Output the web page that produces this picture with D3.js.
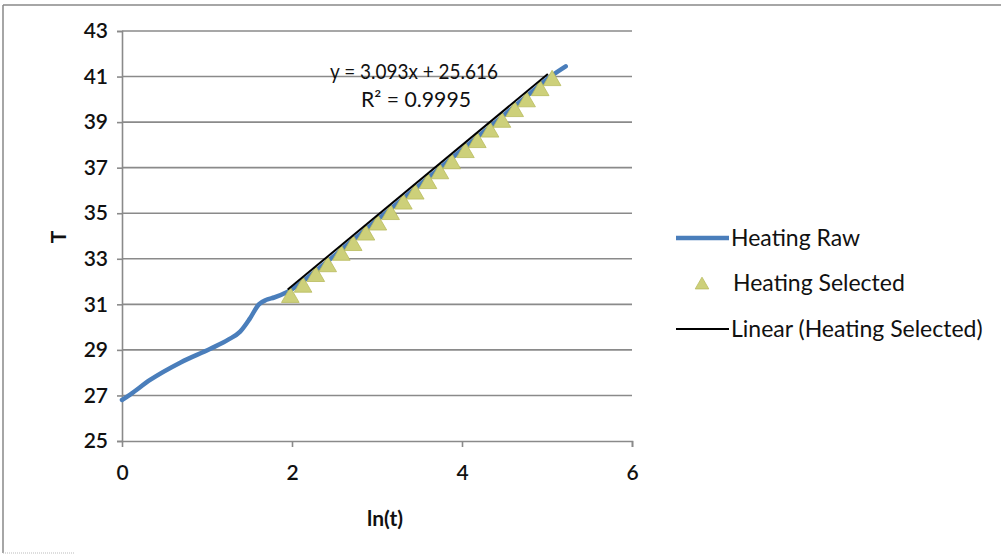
<!DOCTYPE html>
<html><head><meta charset="utf-8">
<script src="https://cdn.jsdelivr.net/npm/d3@7"></script>
<style>body{margin:0;background:#fff}svg{display:block}text{font-family:Lato,"Open Sans",sans-serif}</style>
</head><body><svg id="c" width="1001" height="556"></svg>
<script>
// Heating Raw: ln(t) vs T
const rawX = [0, 0.1, 0.33, 0.69, 1.04, 1.25, 1.39, 1.5, 1.61, 1.7, 1.79, 1.95, 2.3, 2.71, 3.0, 3.4, 3.9, 4.4, 4.8, 5.06, 5.22];
const rawT = [26.8, 27.05, 27.68, 28.45, 29.05, 29.45, 29.8, 30.35, 31.0, 31.2, 31.3, 31.55, 32.53, 33.8, 34.7, 35.93, 37.48, 39.02, 40.26, 41.05, 41.45];
// Heating Selected
const selX = [1.98, 2.13, 2.28, 2.42, 2.58, 2.72, 2.87, 3.01, 3.16, 3.31, 3.45, 3.60, 3.74, 3.88, 4.04, 4.18, 4.33, 4.47, 4.62, 4.76, 4.92, 5.06];
const selT = [31.35, 31.8, 32.27, 32.7, 33.2, 33.63, 34.09, 34.53, 34.99, 35.45, 35.89, 36.35, 36.78, 37.22, 37.71, 38.15, 38.61, 39.04, 39.51, 39.94, 40.43, 40.87];
// Linear fit
const slope = 3.093, intercept = 25.616, r2 = "0.9995";
const xTicks = [0, 2, 4, 6];
const yTicks = [25, 27, 29, 31, 33, 35, 37, 39, 41, 43];
const legendLabels = ["Heating Raw", "Heating Selected", "Linear (Heating Selected)"];

const svg = d3.select("#c");
const x = d3.scaleLinear().domain([0, 6]).range([122, 632]);
const y = d3.scaleLinear().domain([25, 43]).range([441, 31]);

// frame
svg.append("line").attr("x1",3).attr("x2",1001).attr("y1",5).attr("y2",5).attr("stroke","#888").attr("stroke-width",1.5);
svg.append("line").attr("x1",3).attr("x2",3).attr("y1",5).attr("y2",553).attr("stroke","#888").attr("stroke-width",1.5);
svg.append("line").attr("x1",3).attr("x2",75).attr("y1",553).attr("y2",553).attr("stroke","#bbb").attr("stroke-width",1).attr("stroke-dasharray","1,1");

// grid
svg.append("g").selectAll("line").data(yTicks.slice(1)).join("line")
  .attr("x1", x(0)).attr("x2", x(6)).attr("y1", d=>y(d)).attr("y2", d=>y(d))
  .attr("stroke","#8a8a8a").attr("stroke-width",1.6);

// axes
const gy = svg.append("g").attr("transform",`translate(${x(0)},0)`)
  .call(d3.axisLeft(y).tickValues(yTicks).tickSize(5).tickPadding(9).tickFormat(d3.format("d")));
const gx = svg.append("g").attr("transform",`translate(0,${y(25)})`)
  .call(d3.axisBottom(x).tickValues(xTicks).tickSize(6).tickPadding(18).tickFormat(d3.format("d")));
[gx, gy].forEach(g => {
  g.select(".domain").attr("stroke","#8a8a8a").attr("stroke-width",1.6);
  g.selectAll(".tick line").attr("stroke","#8a8a8a").attr("stroke-width",1.6);
  g.selectAll(".tick text").attr("font-size",21).attr("font-weight",600).attr("fill","#111").style("font-family","Lato,sans-serif");
});
gx.select(".tick line").remove();

// axis titles
svg.append("text").attr("x",385).attr("y",526).attr("text-anchor","middle").attr("font-size",21).attr("font-weight",700).attr("fill","#111").text("ln(t)");
svg.append("text").attr("transform","translate(66,237) rotate(-90)").attr("text-anchor","middle").attr("font-size",21).attr("font-weight",700).attr("fill","#111").text("T");

// raw line
const line = d3.line().x((d,i)=>x(rawX[i])).y((d,i)=>y(rawT[i])).curve(d3.curveMonotoneX);
svg.append("path").attr("d", line(rawT)).attr("fill","none").attr("stroke","#4a7ebb").attr("stroke-width",4.5).attr("stroke-linecap","round");

// selected triangles
const tri = d3.symbol().type(d3.symbolTriangle).size(135);
svg.append("g").selectAll("path").data(selX).join("path")
  .attr("d", tri).attr("transform",(d,i)=>`translate(${x(d)},${y(selT[i])+1})`)
  .attr("fill","#cdd07a").attr("stroke","#b9bb5e").attr("stroke-width",0.8);

// trend line
const x0 = 1.95, x1 = 5.01;
svg.append("line").attr("x1",x(x0)).attr("y1",y(slope*x0+intercept)).attr("x2",x(x1)).attr("y2",y(slope*x1+intercept))
  .attr("stroke","#000").attr("stroke-width",2);

// equation
svg.append("text").attr("x",330).attr("y",79).attr("font-size",21).attr("fill","#111")
  .attr("textLength",168).attr("lengthAdjust","spacingAndGlyphs")
  .text(`y = ${slope}x + ${intercept}`);
svg.append("text").attr("x",361).attr("y",107).attr("font-size",21).attr("fill","#111")
  .attr("textLength",110).attr("lengthAdjust","spacingAndGlyphs")
  .text(`R² = ${r2}`);

// legend
const lg = svg.append("g");
lg.append("line").attr("x1",676).attr("x2",729).attr("y1",238).attr("y2",238).attr("stroke","#4a7ebb").attr("stroke-width",4.5);
lg.append("path").attr("d", d3.symbol().type(d3.symbolTriangle).size(80)).attr("transform","translate(702,285)").attr("fill","#cdd07a").attr("stroke","#b9bb5e").attr("stroke-width",0.8);
lg.append("line").attr("x1",676).attr("x2",729).attr("y1",329).attr("y2",329).attr("stroke","#000").attr("stroke-width",1.8);
const ly = [246, 291, 337], lx = [731, 733, 731];
lg.selectAll("text").data(legendLabels).join("text").attr("x",(d,i)=>lx[i]).attr("y",(d,i)=>ly[i])
  .attr("font-size",23).attr("fill","#111").text(d=>d);
</script></body></html>
